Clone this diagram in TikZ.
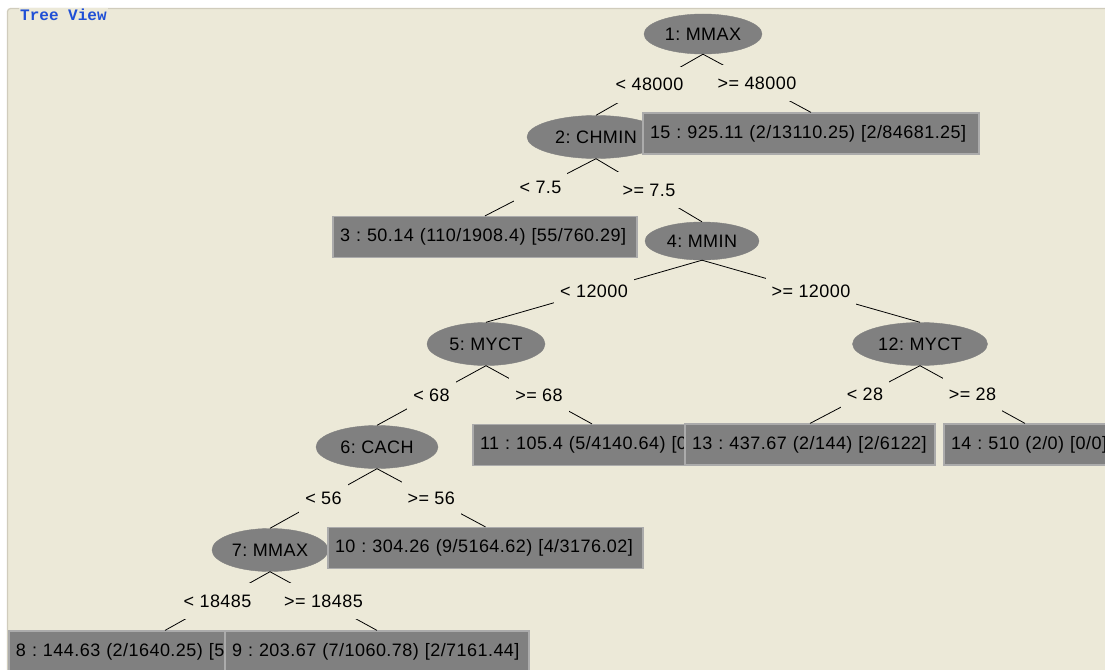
\documentclass[tikz,border=0pt]{standalone}
\usepackage{fontspec}
\setmainfont{Liberation Sans}[LetterSpace=2.5]
\newfontfamily\titlefont{Liberation Mono}
\usetikzlibrary{shapes.geometric}
\frenchspacing

\definecolor{bg}{HTML}{ECE9D8}
\definecolor{panelline}{HTML}{D0CCBC}
\definecolor{nodegray}{HTML}{808080}
\definecolor{boxedge}{HTML}{ABABAB}
\definecolor{titleblue}{HTML}{1F4FD6}

% keep long leaf texts on one line inside a fixed-width box
\newcommand\leaftext[1]{\makebox[0pt][l]{#1}}

\tikzset{
  treefont/.style={font=\fontsize{18}{20}\selectfont},
  split/.style={ellipse, fill=nodegray, draw=nodegray, inner sep=0pt,
    minimum width=#1, minimum height=43pt, treefont, text=black},
  leaf/.style={rectangle, fill=nodegray, draw=boxedge, line width=1.2pt,
    minimum width=#1, minimum height=41pt, inner xsep=7pt, inner ysep=0pt,
    text width={#1-14pt}, align=left, treefont, text=black},
  edge/.style={draw=black, line width=0.8pt},
  lbl/.style={fill=bg, inner xsep=6pt, inner ysep=0pt, minimum height=36pt,
    treefont, text=black},
}

\begin{document}
\begin{tikzpicture}[x=1pt, y=-1pt]
  \useasboundingbox (0,0) rectangle (1105,669);
  \clip (0,0) rectangle (1105,669);

  % window panel with its titled border
  \fill[white] (0,0) rectangle (1105,669);
  \filldraw[fill=bg, draw=panelline, line width=1.2pt, rounded corners=3pt]
    (7.5,8.5) rectangle (1120,690);
  \node[anchor=base west, font=\titlefont\bfseries\fontsize{16}{17}\selectfont,
        text=titleblue, fill=bg, inner xsep=1.5pt, inner ysep=1pt] (title)
    at (18.5,21) {Tree View};

  % split nodes and leaves (later nodes sit on top of earlier ones)
  \node[split=118pt, minimum height=40pt] (n1) at (703,34) {1: MMAX};
  \node[split=138pt] (n2) at (596,137) {2: CHMIN};
  \node[leaf=336pt] (n15) at (811,133.5) {\leaftext{15 : 925.11 (2/13110.25) [2/84681.25]}};
  \node[leaf=304pt] (n3) at (485,237) {\leaftext{3 : 50.14 (110/1908.4) [55/760.29]}};
  \node[split=114pt, minimum height=38pt] (n4) at (702,241) {4: MMIN};
  \node[split=118pt] (n5) at (486,344) {5: MYCT};
  \node[split=135pt] (n12) at (920,344) {12: MYCT};
  \node[leaf=238pt] (n11) at (592,445) {\leaftext{11 : 105.4 (5/4140.64) [0}};
  \node[leaf=250pt] (n13) at (810,444.5) {\leaftext{13 : 437.67 (2/144) [2/6122]}};
  \node[leaf=162pt] (n14) at (1025,444.5) {\leaftext{14 : 510 (2/0) [0/0]}};
  \node[split=122pt] (n6) at (377,447) {6: CACH};
  \node[split=116pt] (n7) at (270,550) {7: MMAX};
  \node[leaf=315pt] (n10) at (485.5,548) {\leaftext{10 : 304.26 (9/5164.62) [4/3176.02]}};
  \node[leaf=312pt] (n8) at (165,651.5) {\leaftext{8 : 144.63 (2/1640.25) [5}};
  \node[leaf=304pt] (n9) at (377,651.5) {\leaftext{9 : 203.67 (7/1060.78) [2/7161.44]}};

  % branches with their split conditions
  \draw[edge] (n1.south) -- node[lbl] (l1) {< 48000} (n2.north);
  \draw[edge] (n1.south) -- node[lbl] (l2) {>= 48000} (n15.north);
  \draw[edge] (n2.south) -- node[lbl] (l3) {< 7.5} (n3.north);
  \draw[edge] (n2.south) -- node[lbl] (l4) {>= 7.5} (n4.north);
  \draw[edge] (n4.south) -- node[lbl] (l5) {< 12000} (n5.north);
  \draw[edge] (n4.south) -- node[lbl] (l6) {>= 12000} (n12.north);
  \draw[edge] (n5.south) -- node[lbl] (l7) {< 68} (n6.north);
  \draw[edge] (n5.south) -- node[lbl] (l8) {>= 68} (n11.north);
  \draw[edge] (n12.south) -- node[lbl] (l9) {< 28} (n13.north);
  \draw[edge] (n12.south) -- node[lbl] (l10) {>= 28} (n14.north);
  \draw[edge] (n6.south) -- node[lbl] (l11) {< 56} (n7.north);
  \draw[edge] (n6.south) -- node[lbl] (l12) {>= 56} (n10.north);
  \draw[edge] (n7.south) -- node[lbl] (l13) {< 18485} (n8.north);
  \draw[edge] (n7.south) -- node[lbl] (l14) {>= 18485} (n9.north);
\end{tikzpicture}
\end{document}
